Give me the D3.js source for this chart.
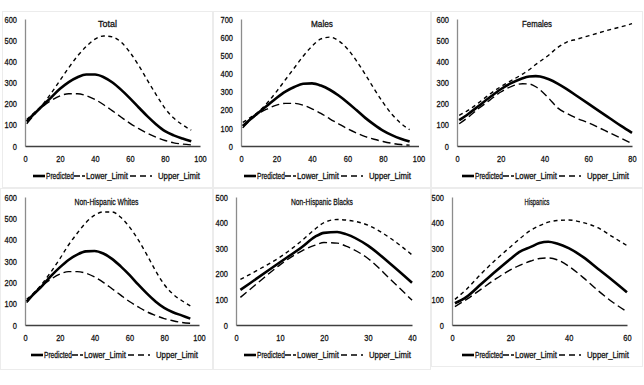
<!DOCTYPE html>
<html>
<head>
<meta charset="utf-8">
<script src="https://cdn.jsdelivr.net/npm/d3@7"></script>
<style>
  html, body { margin: 0; padding: 0; background: #fff; }
  svg { display: block; }
  text { font-family: "Liberation Sans", Arial, sans-serif; fill: #111; stroke: #111; stroke-width: 0.3px; }
</style>
</head>
<body>
<svg id="chart" width="644" height="385"></svg>
<script>
// ---------- DATA ----------
const titles = ["Total", "Males", "Females", "Non-Hispanic Whites", "Non-Hispanic Blacks", "Hispanics"];
const seriesNames = ["Predicted", "Lower_Limit", "Upper_Limit"];

const xMaxes = [100, 100, 80, 100, 40, 60];
const xSteps = [20, 20, 20, 20, 10, 20];
const yMaxes = [600, 700, 600, 600, 500, 500];
const ySteps = [100, 100, 100, 100, 100, 100];

// Total
const totalX     = [1, 5, 10, 15, 20, 25, 30, 35, 40, 45, 50, 55, 60, 65, 70, 75, 80, 85, 90, 95];
const totalPred  = [115, 150, 190, 230, 270, 302, 325, 338, 338, 325, 300, 265, 225, 182, 140, 102, 70, 50, 35, 22];
const totalLower = [105, 145, 185, 215, 237, 247, 247, 238, 220, 195, 166, 136, 107, 82, 60, 41, 26, 15, 9, 5];
const totalUpper = [125, 155, 195, 250, 310, 370, 425, 470, 505, 520, 515, 490, 442, 380, 310, 242, 178, 132, 100, 75];

// Males
const malesX     = [1, 5, 10, 15, 20, 25, 30, 35, 40, 45, 50, 55, 60, 65, 70, 75, 80, 85, 90, 95];
const malesPred  = [110, 145, 185, 225, 265, 300, 325, 343, 345, 333, 310, 278, 240, 198, 155, 118, 85, 60, 40, 25];
const malesLower = [100, 140, 180, 205, 225, 235, 235, 225, 205, 180, 150, 122, 95, 72, 52, 37, 25, 15, 8, 5];
const malesUpper = [130, 155, 190, 240, 300, 365, 430, 495, 550, 590, 600, 580, 535, 470, 395, 315, 240, 175, 125, 90];

// Females
const femalesX     = [1, 5, 10, 15, 20, 25, 30, 33, 36, 38, 42, 46, 50, 55, 60, 65, 70, 75, 80];
const femalesPred  = [122, 150, 190, 230, 268, 298, 320, 328, 330, 328, 315, 295, 270, 235, 200, 165, 130, 95, 62];
const femalesLower = [105, 135, 178, 217, 255, 282, 294, 293, 280, 265, 225, 180, 155, 130, 110, 86, 61, 37, 12];
const femalesUpper = [145, 168, 205, 245, 280, 310, 340, 360, 385, 400, 430, 465, 490, 505, 520, 535, 550, 563, 578];

// Non-Hispanic Whites
const whitesX     = [1, 5, 10, 15, 20, 25, 30, 35, 40, 45, 50, 55, 60, 65, 70, 75, 80, 85, 90, 95];
const whitesPred  = [110, 145, 185, 230, 270, 305, 330, 345, 347, 335, 310, 275, 235, 190, 148, 110, 80, 60, 45, 30];
const whitesLower = [105, 145, 185, 215, 238, 250, 250, 243, 225, 200, 170, 140, 110, 85, 62, 45, 30, 20, 12, 8];
const whitesUpper = [120, 150, 195, 250, 310, 375, 430, 480, 515, 530, 530, 505, 460, 400, 330, 255, 190, 145, 115, 90];

// Non-Hispanic Blacks
const blacksX     = [1, 5, 10, 15, 18, 20, 23, 25, 30, 35, 40];
const blacksPred  = [137, 185, 245, 305, 345, 360, 363, 355, 310, 240, 165];
const blacksLower = [108, 165, 235, 290, 312, 322, 320, 308, 260, 180, 97];
const blacksUpper = [178, 215, 265, 330, 375, 400, 412, 410, 390, 340, 274];

// Hispanics
const hispX     = [1, 5, 10, 15, 20, 23, 27, 30, 33, 36, 40, 45, 50, 55, 60];
const hispPred  = [85, 110, 160, 210, 258, 285, 305, 320, 325, 318, 300, 265, 220, 175, 128];
const hispLower = [72, 100, 140, 180, 215, 232, 250, 260, 262, 255, 230, 185, 135, 90, 52];
const hispUpper = [100, 140, 200, 255, 305, 335, 370, 388, 402, 408, 410, 400, 380, 345, 310];

const panelX     = [totalX, malesX, femalesX, whitesX, blacksX, hispX];
const panelPred  = [totalPred, malesPred, femalesPred, whitesPred, blacksPred, hispPred];
const panelLower = [totalLower, malesLower, femalesLower, whitesLower, blacksLower, hispLower];
const panelUpper = [totalUpper, malesUpper, femalesUpper, whitesUpper, blacksUpper, hispUpper];

// ---------- LAYOUT ----------
const panelBoxes = [
  {x: 2,   y: 11,  w: 211, h: 177},
  {x: 213, y: 11,  w: 218, h: 177},
  {x: 431, y: 11,  w: 212, h: 177},
  {x: 0,   y: 188, w: 213, h: 182},
  {x: 213, y: 188, w: 218, h: 182},
  {x: 431, y: 188, w: 212, h: 179}
];
const plotAreas = [
  {l: 25,  r: 200,   t: 19,  b: 146},
  {l: 241, r: 418.5, t: 19,  b: 146},
  {l: 457, r: 632,   t: 19,  b: 146},
  {l: 25,  r: 199,   t: 197, b: 325},
  {l: 236, r: 412,   t: 197, b: 325},
  {l: 452, r: 627,   t: 197, b: 325}
];
const titleWidths = [19, 22, 30, 64, 62, 25];
const legendTextW = [28, 42, 42];
const styles = [
  {w: 2.6, dash: null},
  {w: 1.4, dash: "8,4"},
  {w: 1.4, dash: "4,3.5"}
];
const FS = 9.8;      // font size
const SQ = 0.76;     // horizontal condensing of tick labels

const svg = d3.select("#chart");
svg.append("rect").attr("width", 644).attr("height", 385).attr("fill", "#fff");

// squeeze a text horizontally around its anchor x so that its width is w (or factor f)
function squeeze(node, w, f) {
  const len = node.getComputedTextLength();
  if (!len) return;
  const sx = w ? w / len : f;
  const ax = +(node.getAttribute("x") || 0);
  node.setAttribute("transform", `translate(${ax},0) scale(${sx.toFixed(4)},1) translate(${-ax},0)`);
}

titles.forEach((title, i) => {
  const box = panelBoxes[i], pa = plotAreas[i];
  const g = svg.append("g");

  g.append("rect")
    .attr("x", box.x + 0.5).attr("y", box.y + 0.5)
    .attr("width", box.w - 1).attr("height", box.h - 1)
    .attr("fill", "none").attr("stroke", "#d9d9d9").attr("stroke-width", 1)
    .attr("stroke-dasharray", "1,1");

  const x = d3.scaleLinear().domain([0, xMaxes[i]]).range([pa.l, pa.r]);
  const y = d3.scaleLinear().domain([0, yMaxes[i]]).range([pa.b, pa.t]);

  // Y axis
  const yAxis = d3.axisLeft(y).tickValues(d3.range(0, yMaxes[i] + 1, ySteps[i])).tickSize(0).tickPadding(8);
  const ya = g.append("g").attr("transform", `translate(${pa.l},0)`).call(yAxis);
  ya.attr("font-family", null).attr("font-size", null);
  ya.select(".domain").attr("stroke", "#8c8c8c").attr("stroke-width", 1.3);
  ya.selectAll("text").attr("font-size", FS).attr("fill", "#111").each(function() { squeeze(this, null, SQ); });

  // X axis
  const xAxis = d3.axisBottom(x).tickValues(d3.range(0, xMaxes[i] + 1, xSteps[i])).tickSize(0).tickPadding(9);
  const xa = g.append("g").attr("transform", `translate(0,${pa.b})`).call(xAxis);
  xa.attr("font-family", null).attr("font-size", null);
  xa.select(".domain").attr("stroke", "#404040").attr("stroke-width", 1.5);
  xa.selectAll("text").attr("font-size", FS).attr("fill", "#111").each(function() { squeeze(this, null, SQ); });

  // Title
  g.append("text")
    .attr("x", box.x + box.w / 2).attr("y", pa.t + 8)
    .attr("text-anchor", "middle")
    .attr("font-size", FS)
    .text(title)
    .each(function() { squeeze(this, titleWidths[i]); });

  // Lines
  const xs = panelX[i];
  const sets = [panelPred[i], panelLower[i], panelUpper[i]];
  const line = d3.line().x(d => x(d[0])).y(d => y(d[1])).curve(d3.curveMonotoneX);
  [2, 1, 0].forEach(s => {
    const pts = xs.map((xv, k) => [xv, sets[s][k]]);
    g.append("path")
      .attr("d", line(pts))
      .attr("fill", "none")
      .attr("stroke", "#000")
      .attr("stroke-width", styles[s].w)
      .attr("stroke-dasharray", styles[s].dash);
  });

  // Legend
  const ly = pa.b + 30;
  const sampleX = [31, 72, 128];
  const sampleW = [12, 11, 22];
  const textX = [44, 84, 156];
  seriesNames.forEach((name, s) => {
    const lx = box.x + sampleX[s];
    g.append("line")
      .attr("x1", lx).attr("x2", lx + sampleW[s])
      .attr("y1", ly).attr("y2", ly)
      .attr("stroke", "#000").attr("stroke-width", styles[s].w)
      .attr("stroke-dasharray", s === 1 ? "6,2,3,10" : (s === 2 ? "6,4" : null));
    g.append("text")
      .attr("x", box.x + textX[s]).attr("y", ly + 3.5)
      .attr("font-size", FS)
      .text(name)
      .each(function() { squeeze(this, legendTextW[s]); });
  });
});
</script>
</body>
</html>
